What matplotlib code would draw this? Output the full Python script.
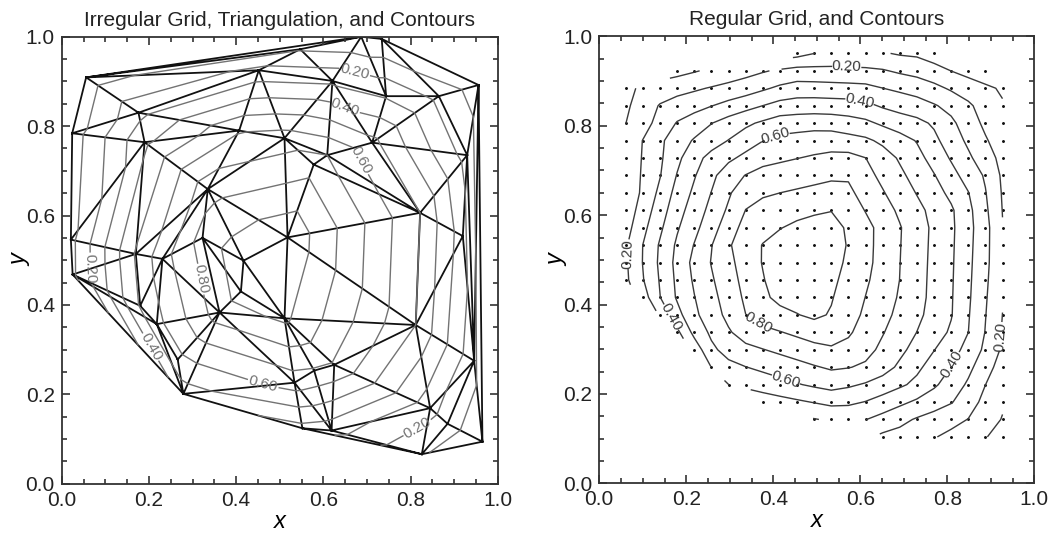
import numpy as np
import matplotlib
matplotlib.use('Agg')
import matplotlib.pyplot as plt
import matplotlib.tri as mtri
from matplotlib.ticker import MultipleLocator

plt.rcParams['font.family'] = ['Liberation Sans', 'DejaVu Sans']

# puntos irregulares
px = [0.056, 0.024, 0.176, 0.190, 0.452, 0.335, 0.021, 0.323, 0.170, 0.231,
      0.687, 0.734, 0.547, 0.621, 0.609, 0.744, 0.865, 0.956, 0.511, 0.712,
      0.930, 0.822, 0.518, 0.920, 0.025, 0.180, 0.218, 0.417, 0.411, 0.362,
      0.266, 0.279, 0.511, 0.812, 0.946, 0.625, 0.579, 0.534, 0.552, 0.619,
      0.845, 0.885, 0.826, 0.965, 0.407, 0.578]
py = [0.909, 0.784, 0.830, 0.764, 0.925, 0.659, 0.546, 0.550, 0.514, 0.503,
      1.000, 0.995, 0.972, 0.901, 0.735, 0.867, 0.867, 0.892, 0.773, 0.763,
      0.735, 0.606, 0.551, 0.554, 0.468, 0.398, 0.357, 0.499, 0.430, 0.383,
      0.278, 0.201, 0.370, 0.355, 0.275, 0.266, 0.253, 0.226, 0.124, 0.119,
      0.169, 0.134, 0.066, 0.094, 0.790, 0.714]
pz = [0.05, 0.05, 0.27, 0.38, 0.23, 0.76, 0.07, 0.84, 0.51, 0.66,
      0.00, 0.01, 0.09, 0.28, 0.70, 0.29, 0.17, 0.05, 0.65, 0.53,
      0.16, 0.50, 0.98, 0.25, 0.08, 0.51, 0.57, 0.97, 0.94, 0.85,
      0.57, 0.45, 0.92, 0.50, 0.13, 0.69, 0.69, 0.65, 0.37, 0.34,
      0.24, 0.14, 0.11, 0.03, 0.59, 0.76]

# malla regular
grid_x = np.linspace(0.061, 0.927, 23)
grid_y = np.linspace(0.104, 0.962, 23)

plain_levels = [0.1, 0.3, 0.5, 0.7, 0.9]
label_levels = [0.2, 0.4, 0.6, 0.8]

tri = mtri.Triangulation(px, py)
gx, gy = np.meshgrid(grid_x, grid_y)
interp = mtri.LinearTriInterpolator(tri, pz)
gz = interp(gx, gy)

fig = plt.figure(figsize=(10.48, 5.33), dpi=100)
ax1 = fig.add_axes([0.0589, 0.0925, 0.416, 0.8386])
ax2 = fig.add_axes([0.5718, 0.0931, 0.4151, 0.8386])

# panel izquierdo
gris = '#737373'
ax1.tricontour(tri, pz, levels=plain_levels, colors=gris, linewidths=1.0)
cs1 = ax1.tricontour(tri, pz, levels=label_levels, colors=gris, linewidths=1.0)
ax1.clabel(cs1, fmt='%.2f', fontsize=11, colors=gris,
           inline=True, inline_spacing=2,
           manual=[(0.673, 0.926), (0.650, 0.843), (0.680, 0.720),
                   (0.310, 0.456), (0.072, 0.482), (0.199, 0.303),
                   (0.462, 0.223), (0.814, 0.128)])
ax1.triplot(tri, color='#111111', linewidth=1.3)
ax1.set_title('Irregular Grid, Triangulation, and Contours', fontsize=15,
              color='#222222', pad=8)

# panel derecho
mask = ~np.ma.getmaskarray(gz)
ax2.plot(gx[mask], gy[mask], linestyle='none', marker='o', markersize=1.1,
         color='#111111')
oscuro = '#3a3a3a'
ax2.contour(grid_x, grid_y, gz, levels=plain_levels, colors=oscuro,
            linewidths=1.0)
cs2 = ax2.contour(grid_x, grid_y, gz, levels=label_levels, colors=oscuro,
                  linewidths=1.0)
ax2.clabel(cs2, fmt='%.2f', fontsize=11, colors=oscuro,
           inline=True, inline_spacing=2,
           manual=[(0.569, 0.931), (0.599, 0.857), (0.404, 0.779),
                   (0.071, 0.514), (0.156, 0.367), (0.362, 0.356),
                   (0.427, 0.227), (0.814, 0.264), (0.933, 0.328)])
ax2.set_title('Regular Grid, and Contours', fontsize=15, color='#222222', pad=8)

for ax in (ax1, ax2):
    ax.set_xlim(0, 1)
    ax.set_ylim(0, 1)
    ax.xaxis.set_major_locator(MultipleLocator(0.2))
    ax.yaxis.set_major_locator(MultipleLocator(0.2))
    ax.xaxis.set_minor_locator(MultipleLocator(0.05))
    ax.yaxis.set_minor_locator(MultipleLocator(0.05))
    ax.xaxis.set_major_formatter(lambda v, p: f'{v:.1f}')
    ax.yaxis.set_major_formatter(lambda v, p: f'{v:.1f}')
    ax.tick_params(which='both', direction='in', top=True, right=True,
                   labelsize=15, labelcolor='#222222', color='#333333', width=1.2)
    ax.tick_params(which='major', length=6, pad=5)
    ax.tick_params(which='minor', length=3.4)
    for s in ax.spines.values():
        s.set_linewidth(1.3)
        s.set_color('#333333')
    ax.set_xlabel('x', fontsize=17, style='italic', labelpad=0)
    ax.set_ylabel('y', fontsize=17, style='italic', labelpad=-4)

fig.savefig('out.png', dpi=100)
